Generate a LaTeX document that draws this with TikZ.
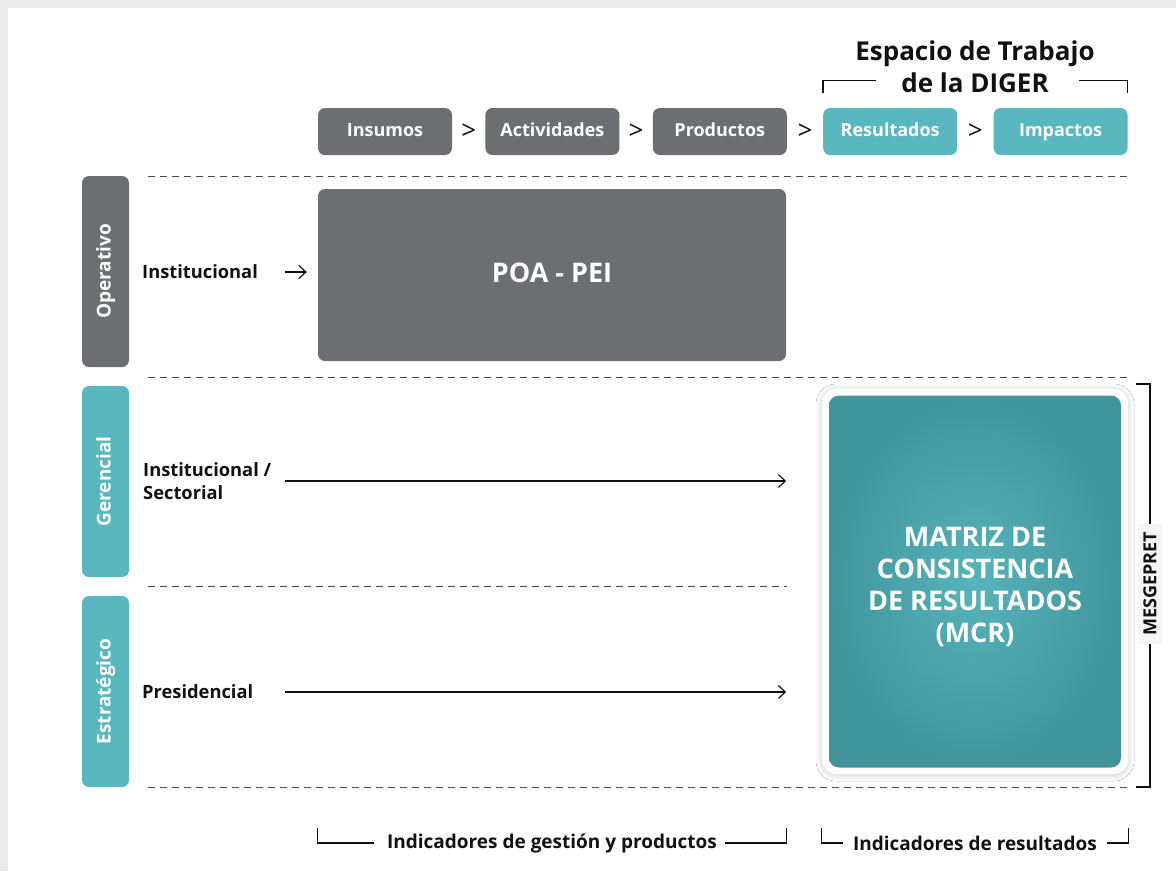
\documentclass[tikz,border=0pt]{standalone}
\usepackage{fontspec}
\setmainfont{Open Sans}
\usetikzlibrary{positioning,arrows.meta,shadows.blur}

\definecolor{boxgray}{HTML}{6D6E71}
\definecolor{boxteal}{HTML}{58B7BF}
\definecolor{mcrlight}{HTML}{55B4BB}
\definecolor{mcrdark}{HTML}{40959A}
\definecolor{framegray}{HTML}{EBEBEB}
\definecolor{inkblack}{HTML}{111111}

\tikzset{
  x=1pt, y=1pt,
  font=\bfseries,
  stage/.style={rounded corners=7pt, fill=boxgray, text=white, minimum width=134pt,
    minimum height=47pt, inner sep=0pt, text height=13pt, text depth=4pt,
    font=\bfseries\fontsize{18}{20}\selectfont},
  result/.style={stage, fill=boxteal},
  chev/.style={font=\fontsize{26}{26}\selectfont, text=inkblack}, % the > between stages
  level/.style={rounded corners=7pt, fill=boxteal, text=white, rotate=90, minimum width=191pt,
    minimum height=47pt, inner sep=0pt, text height=14pt, text depth=4pt,
    font=\bfseries\fontsize{19}{21}\selectfont},
  scope label/.style={anchor=west, align=left, inner sep=0pt, text=inkblack,
    font=\bfseries\fontsize{18.3}{23}\selectfont},
  sep/.style={dash pattern=on 7pt off 5pt, line width=0.9pt, draw=black!70},
  arr/.style={-{Straight Barb[length=7pt,width=13pt]}, line width=1.2pt, draw=inkblack},
  brk/.style={line width=1.3pt, draw=inkblack},
  foot/.style={inner sep=0pt, text=inkblack, font=\bfseries\fontsize{19}{21}\selectfont},
}

\begin{document}
\begin{tikzpicture}
  \useasboundingbox (0,0) rectangle (1176,-871);
  \fill[framegray] (0,0) rectangle (1176,-871);
  \fill[white] (8,-8) rectangle (1176,-871);

  % value chain
  \node[stage] (ins) at (385,-131.5) {Insumos};
  \node[stage, right=33pt of ins] (act) {Actividades};
  \node[stage, right=33pt of act] (prod) {Productos};
  \node[result, right=36pt of prod] (res) {Resultados};
  \node[result, right=36pt of res] (imp) {Impactos};
  \path (ins) -- node[chev]{>} (act)
        (act) -- node[chev]{>} (prod)
        (prod) -- node[chev]{>} (res)
        (res) -- node[chev]{>} (imp);

  \node[align=center, text=inkblack, font=\bfseries\fontsize{26}{32}\selectfont] (diger) at (975,-67) {Espacio de Trabajo\\de la DIGER};
  \draw[brk] ([yshift=15pt]res.north west) -- ([yshift=27pt]res.north west) -- ++(53,0);
  \draw[brk] ([yshift=15pt]imp.north east) -- ([yshift=27pt]imp.north east) -- ++(-49,0);

  % rows
  \draw[sep] (148,-176) -- (1127,-176);
  \draw[sep] (148,-377) -- (1127,-377);
  \draw[sep] (148,-586) -- (787,-586);
  \draw[sep] (148,-787) -- (1127,-787);

  \node[level, fill=boxgray] (ope) at (105.5,-271.5) {Operativo};
  \node[level] (ger) at (105.5,-481.5) {Gerencial};
  \node[level] (est) at (105.5,-691.5) {Estratégico};

  \node[stage, minimum width=468pt, minimum height=172pt, text height=20pt, text depth=6pt,
    font=\bfseries\fontsize{27}{30}\selectfont] (poa) at (552,-275) {POA - PEI};

  \node[scope label] (inst) at (142,-272) {Institucional};
  \node[scope label] (sect) at (143,-481) {Institucional /\\Sectorial};
  \node[scope label] (pres) at (142,-692) {Presidencial};

  \draw[arr] ([xshift=-33pt]poa.west |- inst.east) -- ([xshift=-11pt]poa.west |- inst.east);
  \draw[arr] ([xshift=-33pt]poa.west |- sect.east) -- (poa.east |- sect.east);
  \draw[arr] ([xshift=-33pt]poa.west |- pres.east) -- (poa.east |- pres.east);

  % MCR
  \node[fill=white, rounded corners=14pt, minimum width=306pt, minimum height=385pt,
    blur shadow={shadow xshift=0pt, shadow yshift=-1pt, shadow blur radius=6pt, shadow opacity=22}] (mcr) at (975,-581.5) {};
  \node[rounded corners=10pt, inner color=mcrlight, outer color=mcrdark, minimum width=292pt,
    minimum height=372pt] (mcrin) at (mcr) {};
  \node[align=center, text=white, font=\bfseries\fontsize{27}{32}\selectfont] (mcrtext) at ([yshift=-5pt]mcr.center)
    {MATRIZ DE\\CONSISTENCIA\\DE RESULTADOS\\(MCR)};

  \node[rotate=90, fill=black!4, inner xsep=8pt, inner ysep=5pt, text=inkblack,
    font=\bfseries\fontsize{18}{20}\selectfont] (mes) at (1150,-584) {MESGEPRET};
  \draw[brk] (1136,-384) -| (mes.east);
  \draw[brk] (mes.west) |- (1136,-787);

  % indicators
  \node[foot] (gest) at (552,-843) {Indicadores de gestión y productos};
  \node[foot] (resu) at (975,-843) {Indicadores de resultados};
  \draw[brk] (gest.west) ++(-13pt,0) -- (gest.west -| poa.west) -- ++(0,15);
  \draw[brk] (gest.east) ++(8pt,0) -- (gest.east -| poa.east) -- ++(0,15);
  \draw[brk] (resu.west) ++(-10pt,0) -- (resu.west -| mcr.west) -- ++(0,15);
  \draw[brk] (resu.east) ++(10pt,0) -- (resu.east -| mcr.east) -- ++(0,15);
\end{tikzpicture}
\end{document}
